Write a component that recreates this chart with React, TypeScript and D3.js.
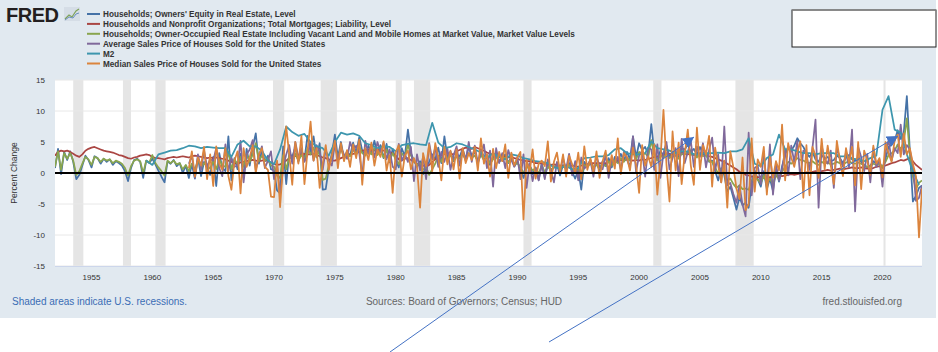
import React, { useEffect, useRef } from 'react';
import * as d3 from 'd3';

// quarterly percent change, 1952 Q1 .. 2023 Q2
const ownersEquity = [
  0.8, 3.9, -0.2, 3.4, 2.1, 3.5, 1.8, -1.0, -0.3, 1.2, 2.8, 2.1, 0.9, 2.7, 2.4, 1.5,
  2.3, 1.8, 2.2, 1.3, 1.9, 1.6, 1.2, 0.3, -1.3, 0.8, 2.1, 2.3, 1.8, -0.8, 2.0, 1.6,
  2.3, 1.4, 0.4, -0.6, -1.5, 1.9, 1.5, 2.1, 1.1, 1.6, 0.0, 1.2, -0.8, 1.4, -0.9, 2.5,
  -0.5, 1.8, 0.9, -0.3, 2.6, -2.1, 3.2, 0.8, 0.3, 5.9, -1.2, 2.4, 0.6, 3.1, -0.8, 3.9,
  1.2, 4.2, 6.4, 1.5, 3.6, 1.9, 2.8, 0.6, 0.4, -2.8, -3.3, 4.3, -1.8, 3.2, 2.6, 4.1,
  1.8, 3.7, 2.2, 6.0, 3.4, 5.9, 2.5, 4.8, -2.7, -2.6, 0.8, 3.1, 6.2, 2.5, 5.0, 2.4,
  3.5, 2.8, 4.9, 3.2, 5.8, 3.6, 2.9, 4.4, 3.3, 5.2, 3.0, 4.5, 2.4, 4.7, 1.7, 3.9,
  2.1, 0.9, 4.0, 2.7, 7.0, 3.2, 2.0, 1.0, 1.9, -0.2, 0.9, 1.8, 3.0, 2.2, 4.1, 1.6,
  5.9, 2.4, 3.5, 1.9, 3.1, 2.6, 3.9, 2.2, 4.2, 2.8, 3.4, 1.7, 3.6, 2.1, 2.9, 1.3,
  2.5, 3.1, 1.8, 2.4, 3.0, 1.6, 2.7, 1.1, 1.8, 0.6, -0.8, 0.9, 1.4, -0.2, 0.8, -1.1,
  1.6, -0.7, 1.2, 0.3, 0.9, 1.4, -0.4, 1.3, 0.7, 1.6, 0.2, -0.9, 0.5, -2.7, 1.8, 1.2,
  2.1, 0.8, 1.6, 0.4, 1.9, 1.1, 2.4, 0.9, 2.6, 1.8, 3.1, 2.0, 3.4, 2.2, 5.9, 2.5,
  4.8, 3.7, 4.2, 3.0, 7.9, 3.2, 2.1, 3.6, 2.8, 4.4, 2.6, 3.1, 3.3, 2.5, 4.0, 3.8,
  4.6, 3.4, 3.9, 2.9, 4.2, 3.1, 3.5, 1.8, 2.0, 0.3, -1.2, 0.8, -0.4, -3.0, -2.2, -4.0,
  -5.9, -3.9, -5.2, -4.8, -5.6, -1.8, 0.4, -1.0, -2.2, 0.3, -2.6, -0.9, -2.9, 0.8, -1.4, 1.1,
  2.9, 4.3, 3.6, 4.4, 5.6, 4.8, 4.2, 3.2, 2.6, 3.4, 2.2, 1.8, 2.9, 2.3, 2.6, 1.9,
  2.1, 2.8, 2.4, 1.6, 2.5, 2.9, 2.2, 2.0, 2.4, 1.8, 1.3, 0.9, 1.2, 1.9, 1.5, 1.7,
  0.8, 2.3, 4.2, 4.6, 5.2, 6.9, 5.5, 6.5, 12.4, 3.6, -4.6, -3.7, -2.4, -2.0,
];

const mortgages = [
  2.8, 3.4, 3.6, 3.5, 3.6, 3.4, 3.1, 2.8, 2.6, 3.0, 3.6, 3.9, 4.1, 4.2, 4.0, 3.8,
  3.6, 3.5, 3.4, 3.3, 3.1, 2.9, 2.8, 2.6, 2.4, 2.3, 2.5, 2.6, 2.8, 2.9, 3.0, 2.9,
  2.6, 2.4, 2.4, 2.3, 2.2, 2.4, 2.5, 2.6, 2.5, 2.6, 2.7, 2.6, 2.5, 2.7, 2.8, 2.7,
  2.6, 2.5, 2.4, 2.5, 2.4, 2.5, 2.4, 2.3, 2.2, 2.0, 1.8, 1.6, 1.5, 1.7, 1.8, 1.9,
  2.0, 2.1, 2.0, 1.9, 2.0, 2.1, 1.9, 1.7, 1.5, 1.3, 1.4, 1.6, 2.0, 2.4, 2.6, 2.7,
  2.8, 3.0, 3.1, 3.0, 3.0, 3.1, 2.9, 2.7, 2.5, 2.4, 2.2, 2.0, 2.0, 2.2, 2.4, 2.6,
  2.7, 2.9, 3.1, 3.2, 3.4, 3.6, 3.7, 3.8, 3.7, 3.6, 3.7, 3.8, 3.6, 3.5, 3.4, 3.1,
  2.8, 2.2, 2.0, 2.3, 2.4, 2.1, 1.8, 1.5, 1.3, 1.2, 1.0, 1.3, 1.8, 2.2, 2.6, 2.9,
  3.0, 3.2, 3.1, 3.0, 3.5, 3.7, 3.9, 4.1, 4.0, 3.9, 4.2, 4.0, 3.8, 3.6, 3.3, 3.1,
  2.9, 3.0, 2.8, 2.7, 2.6, 2.5, 2.6, 2.4, 2.3, 2.1, 2.0, 1.9, 1.9, 1.8, 1.6, 1.6,
  1.5, 1.6, 1.4, 1.3, 1.4, 1.3, 1.2, 1.1, 1.2, 1.3, 1.2, 1.1, 1.0, 1.2, 1.3, 1.4,
  1.5, 1.6, 1.5, 1.6, 1.5, 1.6, 1.7, 1.8, 1.9, 2.0, 2.1, 2.0, 2.2, 2.1, 2.0, 2.1,
  2.0, 2.2, 2.1, 2.3, 2.4, 2.6, 2.7, 2.8, 2.9, 3.0, 3.1, 2.9, 3.2, 3.0, 3.3, 3.1,
  3.0, 3.2, 2.9, 3.0, 2.9, 3.1, 2.8, 2.7, 2.6, 2.4, 2.2, 2.0, 1.8, 1.5, 1.2, 0.9,
  0.6, 0.2, 0.0, -0.3, -0.4, -0.6, -0.5, -0.7, -0.6, -0.8, -0.6, -0.7, -0.5, -0.6, -0.4, -0.5,
  -0.4, -0.3, -0.2, -0.3, -0.2, -0.1, 0.0, 0.1, 0.1, 0.2, 0.3, 0.2, 0.3, 0.4, 0.5, 0.4,
  0.5, 0.6, 0.7, 0.6, 0.7, 0.8, 0.9, 0.8, 0.8, 0.9, 0.8, 0.7, 0.7, 0.8, 1.0, 1.1,
  1.0, 1.2, 1.4, 1.6, 1.7, 1.9, 2.1, 2.0, 2.2, 2.4, 1.9, 1.3, 0.9, 0.5,
];

const ownerOccupied = [
  1.0, 3.5, 0.5, 3.2, 2.3, 3.2, 2.0, -0.3, 0.3, 1.5, 2.6, 2.2, 1.3, 2.6, 2.4, 1.8,
  2.3, 2.0, 2.2, 1.6, 2.0, 1.8, 1.5, 0.8, -0.4, 1.1, 2.0, 2.2, 1.9, 0.0, 2.0, 1.7,
  2.9, 1.6, 0.9, 0.3, -0.4, 2.0, 1.6, 2.0, 1.4, 1.6, 0.6, 1.3, 0.3, 1.5, 0.5, 2.1,
  0.8, 1.6, 1.2, 0.7, 2.0, 0.6, 2.2, 1.2, 1.0, 3.5, 0.6, 2.2, 1.4, 2.6, 1.0, 3.0,
  1.8, 3.0, 4.8, 1.9, 2.8, 2.0, 2.4, 1.2, 1.0, -0.4, -0.8, 2.9, 0.6, 2.6, 2.3, 3.1,
  2.0, 2.9, 2.2, 4.0, 3.0, 4.1, 2.6, 3.7, -1.1, -0.9, 1.2, 2.6, 4.4, 2.5, 3.9, 2.5,
  3.0, 2.7, 3.8, 2.9, 4.3, 3.2, 2.8, 3.6, 3.0, 4.0, 2.9, 3.7, 2.5, 3.8, 2.0, 3.2,
  2.2, 1.4, 3.2, 2.5, 4.6, 2.8, 2.0, 1.3, 1.6, 0.5, 0.9, -0.3, 0.6, 1.5, 2.8, 1.8,
  3.6, 2.2, 2.9, 2.0, 2.6, 2.3, 3.1, 2.1, 3.2, 2.5, 2.8, 1.9, 2.9, 2.1, 2.5, 1.6,
  2.2, 2.6, 1.9, 2.1, 2.5, 1.7, 2.3, 1.4, 1.6, 0.9, 0.1, 0.8, 1.1, 0.4, 0.8, -0.1,
  1.2, 0.2, 1.0, 0.6, 0.9, 1.2, 0.4, 1.1, 0.8, 1.3, 0.6, 0.2, 0.6, -0.6, 1.3, 1.0,
  1.5, 0.9, 1.3, 0.8, 1.5, 1.1, 1.9, 1.2, 2.0, 1.6, 2.4, 1.8, 2.5, 2.0, 4.2, 2.2,
  3.4, 2.9, 3.2, 2.6, 5.3, 2.8, 2.0, 2.9, 2.4, 3.2, 2.4, 2.7, 2.8, 2.3, 3.1, 3.0,
  3.4, 2.9, 3.1, 2.5, 3.2, 2.7, 2.9, 1.9, 1.8, 0.9, -0.1, 0.7, 0.1, -1.2, -0.9, -1.8,
  -2.4, -2.0, -2.6, -2.5, -2.7, -1.3, -0.6, -1.1, -1.6, -0.4, -1.7, -0.9, -1.8, -0.2, -1.0, 0.2,
  1.0, 1.8, 1.5, 1.9, 2.4, 2.1, 2.0, 1.7, 1.6, 1.9, 1.5, 1.3, 1.8, 1.5, 1.7, 1.4,
  1.5, 1.8, 1.6, 1.3, 1.7, 1.9, 1.6, 1.5, 1.7, 1.5, 1.2, 1.0, 1.1, 1.5, 1.3, 1.4,
  1.0, 1.8, 2.9, 3.2, 3.6, 4.6, 3.8, 5.0, 8.8, 3.0, -0.6, -2.6, -1.6, -1.2,
];

// quarterly percent change, 1963 Q1 .. 2023 Q2
const averagePrice = [
  1.5, 2.8, -0.8, 3.0, 0.5, 3.6, 1.0, 2.2, 2.0, 4.0, 0.8, -0.5, 4.6, 0.3, 2.5, 1.0,
  1.2, 5.2, -1.5, 3.0, 3.8, 5.3, 0.5, 2.6, 4.3, 0.8, 2.0, 3.5, -1.0, 1.5, -3.5, 0.8,
  3.0, 4.5, 1.5, 5.0, 2.5, 4.0, 1.8, 3.0, 5.0, 2.0, 4.5, 3.5, 0.5, 3.8, 2.0, 1.2,
  4.8, 2.2, 4.1, 3.0, 2.3, 5.0, 3.6, 4.4, 3.2, -0.5, 5.2, 3.1, 4.6, 2.5, 5.0, 3.4,
  4.9, 2.2, 3.8, 1.0, 0.6, 4.7, 2.0, 3.1, 1.8, 4.2, -1.3, 3.0, 0.4, 2.6, -1.0, 4.8,
  2.2, 4.1, 1.0, 3.4, 1.8, 3.9, 0.5, 2.8, 4.3, 1.2, 3.5, 2.0, 5.0, 1.8, 4.4, 1.5,
  3.2, 4.6, 0.8, 3.6, -2.2, 4.0, 1.6, 3.2, 0.8, 3.7, 2.1, 1.0, 2.6, -1.0, 3.0, -2.4,
  1.6, -1.3, 0.9, -1.2, 1.4, -1.0, 2.2, 0.4, -1.5, 1.8, 0.2, 2.4, 0.6, 3.1, -0.4, 1.9,
  -1.2, 2.5, 0.7, 1.2, 2.0, -0.6, 2.8, 1.0, 0.6, 3.0, -0.8, 2.2, 1.4, 2.6, 0.5, 3.4,
  2.2, 0.9, 5.9, 0.2, 2.8, 3.6, -0.6, 4.1, 3.8, 0.5, 4.6, -0.8, 3.2, 5.0, 0.6, 2.4,
  4.0, -0.5, 5.5, 1.6, 3.4, 5.2, 1.0, 4.3, 2.6, 4.8, 0.9, 3.7, 5.7, 0.4, 3.0, -1.5,
  7.5, -2.0, -1.6, -3.4, -4.8, -2.0, -5.1, -7.0, 6.5, -3.6, 0.8, 1.2, -1.8, 3.2, -2.3, 4.6,
  -3.5, 1.4, -1.2, 0.6, 3.8, -0.4, 4.4, 1.8, 5.2, -1.0, 3.6, 2.9, 0.5, 4.1, 8.6, -5.6,
  4.4, 2.2, 1.5, 3.6, -2.4, 4.0, 2.5, 1.0, 3.3, 0.9, 7.0, -6.2, 4.2, 2.6, 0.3, 3.1,
  -1.5, 4.0, 1.0, 2.2, -2.2, 3.4, 5.3, 2.0, 4.0, 3.2, 7.8, 3.0, 4.5, 3.8, 1.2, -4.5,
  -4.0, -2.0,
];

const medianPrice = [
  0.8, 3.5, -0.6, 2.5, 1.2, 4.2, -1.0, 3.0, -2.1, 4.3, 1.5, 0.5, 4.0, -0.5, -2.7, 2.0,
  3.5, -3.3, 4.0, 1.0, 2.5, 4.5, 0.0, 3.0, 4.0, 1.0, 0.5, -3.8, -3.9, 2.0, -5.5, 1.5,
  7.5, 3.0, -1.9, 5.0, 1.5, 6.0, -1.8, 3.5, 8.3, 2.0, 4.0, -2.4, 1.5, 4.5, 0.5, 2.8,
  5.2, 0.8, 4.8, 1.9, 3.7, 1.0, 4.6, 2.4, 5.4, -1.9, 4.0, 2.1, 4.9, 1.2, 3.8, 2.6,
  5.1, 0.4, 2.9, -3.2, 3.3, 4.5, -0.6, 2.8, 3.6, 0.6, 2.4, 1.0, -5.6, 3.2, 1.1, 4.6,
  0.3, 4.8, 2.5, -1.2, 4.2, 1.4, 3.6, 0.6, 3.8, -0.9, 4.0, 1.6, 3.2, 2.1, 4.2, 0.4,
  5.6, 1.5, 3.1, -0.6, 3.9, 0.8, 3.4, 1.9, 4.6, -0.8, 3.3, 1.2, 2.5, 3.4, -7.5, 2.1,
  0.2, 3.8, -0.9, 1.5, 2.0, 1.1, 5.1, -1.4, 1.8, 3.3, 0.2, 3.0, -0.6, 2.8, 1.4, 0.0,
  3.3, -1.0, 4.3, 0.5, 2.4, 0.1, 3.5, -0.8, 1.9, 3.6, 0.2, 2.9, 0.7, 5.6, -0.2, 3.2,
  2.6, 0.4, 4.1, 1.3, -3.2, 4.5, 1.2, 2.7, 1.0, 4.6, -3.5, 2.0, 10.2, 1.4, -4.6, 6.7,
  0.4, 4.9, -1.8, 3.0, 7.0, 1.2, -1.9, 7.3, 0.5, 4.5, 3.0, 6.0, -2.2, 4.1, 1.2, -1.5,
  2.0, -5.6, 3.5, 0.9, -2.5, -4.2, 2.5, -6.0, -5.0, 5.6, -3.0, 2.2, 1.0, 4.2, -3.5, 2.6,
  -0.8, 1.9, 0.4, 7.8, -1.2, 4.8, 2.5, 1.0, 3.4, 5.1, -4.0, 4.5, -3.6, 4.2, 2.8, -0.8,
  5.5, 0.6, 4.4, 1.2, -1.8, 5.2, 2.0, -0.5, 4.0, 1.6, 4.2, -2.0, 5.0, -2.6, 3.6, 2.0,
  -0.3, 4.4, 1.5, 2.4, -0.7, 5.0, 3.2, 1.8, 5.3, 6.2, 2.6, 6.4, 3.0, 4.0, 1.5, -0.5,
  -10.4, -2.5,
];

// semiannual percent change, 1959 H2 .. 2023 H1
const m2 = [
  2.0, 1.3, 3.0, 3.3, 3.6, 3.7, 4.0, 4.4, 4.3, 4.0, 4.2, 4.1, 4.0, 4.0, 2.6, 4.6,
  5.2, 4.3, 4.3, 3.6, 2.0, 1.4, 3.8, 7.5, 6.6, 6.0, 6.3, 5.0, 4.3, 4.0, 2.8, 5.0,
  6.5, 6.2, 6.4, 6.0, 4.8, 4.5, 4.0, 4.3, 4.2, 3.5, 4.5, 4.7, 4.8, 4.6, 4.5, 8.1,
  4.9, 4.0, 4.2, 4.8, 4.6, 4.2, 3.8, 3.3, 2.4, 3.2, 2.6, 2.2, 3.0, 2.8, 2.4, 2.2,
  1.9, 1.8, 1.6, 0.9, 0.8, 1.1, 0.6, 0.8, 2.4, 2.5, 2.7, 2.7, 2.9, 3.8, 4.0, 3.2,
  3.0, 3.0, 3.2, 5.1, 4.0, 3.8, 3.6, 3.2, 3.5, 3.5, 3.0, 3.0, 3.2, 3.2, 3.3, 3.2,
  3.5, 3.5, 3.8, 5.6, 1.5, 1.1, 2.4, 3.0, 6.2, 3.8, 3.8, 3.5, 3.2, 3.2, 3.0, 3.2,
  3.2, 3.2, 2.7, 2.7, 2.3, 2.2, 1.9, 2.4, 2.8, 10.2, 12.4, 7.0, 6.5, 3.0, 0.3, -1.9,
];

const seriesNames = [
  "Households; Owners' Equity in Real Estate, Level",
  'Households and Nonprofit Organizations; Total Mortgages; Liability, Level',
  'Households; Owner-Occupied Real Estate Including Vacant Land and Mobile Homes at Market Value, Market Value Levels',
  'Average Sales Price of Houses Sold for the United States',
  'M2',
  'Median Sales Price of Houses Sold for the United States',
];
const seriesColors = ['#4572a7', '#aa4643', '#89a54e', '#80699b', '#3d96ae', '#db843d'];

const yTicks = [-15, -10, -5, 0, 5, 10, 15];

const recessions = [
  ['1953-07-01', '1954-05-01'], ['1957-08-01', '1958-04-01'], ['1960-04-01', '1961-02-01'],
  ['1969-12-01', '1970-11-01'], ['1973-11-01', '1975-03-01'], ['1980-01-01', '1980-07-01'],
  ['1981-07-01', '1982-11-01'], ['1990-07-01', '1991-03-01'], ['2001-03-01', '2001-11-01'],
  ['2007-12-01', '2009-06-01'], ['2020-02-01', '2020-04-01'],
];

const FONT = '"Liberation Sans", Arial, Helvetica, sans-serif';

const toSeries = (values, startYear, startMonth, stepMonths) =>
  values.map((v, i) => ({ date: new Date(Date.UTC(startYear, startMonth + i * stepMonths, 1)), value: v }));

const FredChart = () => {
  const ref = useRef(null);

  useEffect(() => {
    const svg = d3.select(ref.current);
    svg.selectAll('*').remove();

    const width = 938;
    const height = 352;
    const margin = { left: 55, right: 16, top: 80, bottom: 86 };

    const series = [
      toSeries(ownersEquity, 1952, 0, 3),
      toSeries(mortgages, 1952, 0, 3),
      toSeries(ownerOccupied, 1952, 0, 3),
      toSeries(averagePrice, 1963, 0, 3),
      toSeries(m2, 1959, 6, 6),
      toSeries(medianPrice, 1963, 0, 3),
    ];

    const x = d3.scaleUtc()
      .domain([new Date(Date.UTC(1952, 0, 1)), new Date(Date.UTC(2023, 3, 1))])
      .range([margin.left, width - margin.right]);
    const y = d3.scaleLinear()
      .domain([-15, 15])
      .range([height - margin.bottom, margin.top]);

    // page background
    svg.append('rect').attr('x', 0).attr('y', 0).attr('width', width).attr('height', height).attr('fill', '#ffffff');
    svg.append('rect').attr('x', 0).attr('y', 0).attr('width', 936).attr('height', 318).attr('fill', '#e1e9f0');

    // FRED logo
    svg.append('text')
      .attr('x', 6).attr('y', 22)
      .style('font', `900 20px ${FONT}`)
      .attr('fill', '#231f20')
      .attr('letter-spacing', '-0.5')
      .text('FRED');
    const icon = svg.append('g').attr('transform', 'translate(64,7)');
    icon.append('rect').attr('width', 16).attr('height', 14).attr('fill', '#d5dde6');
    icon.append('path').attr('d', 'M1,12 L5,8 L8,10 L12,4 L15,2').attr('fill', 'none').attr('stroke', '#7fa35a').attr('stroke-width', 1.2);
    icon.append('path').attr('d', 'M1,13 L5,10 L9,11 L12,7 L15,6').attr('fill', 'none').attr('stroke', '#6b8fc0').attr('stroke-width', 1);

    // legend
    const legend = svg.append('g');
    seriesNames.forEach((name, i) => {
      const ly = 14 + i * 9.9;
      legend.append('line')
        .attr('x1', 87).attr('x2', 100).attr('y1', ly).attr('y2', ly)
        .attr('stroke', seriesColors[i]).attr('stroke-width', 2);
      legend.append('text')
        .attr('x', 103).attr('y', ly + 3)
        .style('font', `bold 8.2px ${FONT}`)
        .attr('fill', '#333333')
        .text(name);
    });

    // empty white box at the right
    svg.append('rect')
      .attr('x', 792).attr('y', 10).attr('width', 144).attr('height', 37)
      .attr('fill', '#ffffff').attr('stroke', '#222222').attr('stroke-width', 1);
    svg.append('line').attr('x1', 792).attr('x2', 936).attr('y1', 10).attr('y2', 10)
      .attr('stroke', '#888888').attr('stroke-width', 1.5);

    // plot area
    svg.append('rect')
      .attr('x', margin.left).attr('y', margin.top)
      .attr('width', width - margin.right - margin.left)
      .attr('height', height - margin.bottom - margin.top)
      .attr('fill', '#ffffff');

    svg.append('g').selectAll('rect')
      .data(recessions)
      .join('rect')
        .attr('x', d => x(new Date(d[0])))
        .attr('width', d => x(new Date(d[1])) - x(new Date(d[0])))
        .attr('y', margin.top)
        .attr('height', height - margin.bottom - margin.top)
        .attr('fill', '#e5e5e5');

    svg.append('g').selectAll('line')
      .data(yTicks.filter(t => t !== 0))
      .join('line')
        .attr('x1', margin.left).attr('x2', width - margin.right)
        .attr('y1', d => y(d)).attr('y2', d => y(d))
        .attr('stroke', '#e8e8e8').attr('stroke-width', 1);

    // x axis line
    svg.append('line')
      .attr('x1', margin.left).attr('x2', width - margin.right)
      .attr('y1', y(-15) + 0.5).attr('y2', y(-15) + 0.5)
      .attr('stroke', '#ccd6eb');

    // y tick labels
    svg.append('g').selectAll('text')
      .data(yTicks)
      .join('text')
        .attr('x', 45).attr('y', d => y(d) + 3)
        .attr('text-anchor', 'end')
        .style('font', `8px ${FONT}`)
        .attr('fill', '#333333')
        .text(d => d);

    // x tick labels
    const xTicks = d3.range(1955, 2021, 5).map(yr => new Date(Date.UTC(yr, 0, 1)));
    svg.append('g').selectAll('text')
      .data(xTicks)
      .join('text')
        .attr('x', d => x(d)).attr('y', 280)
        .attr('text-anchor', 'middle')
        .style('font', `8px ${FONT}`)
        .attr('fill', '#333333')
        .text(d => d.getUTCFullYear());

    svg.append('text')
      .attr('transform', `translate(17,${y(0)}) rotate(-90)`)
      .attr('text-anchor', 'middle')
      .style('font', `8.5px ${FONT}`)
      .attr('fill', '#333333')
      .text('Percent Change');

    // series
    const line = d3.line()
      .x(d => x(d.date))
      .y(d => y(d.value));

    const clip = svg.append('defs').append('clipPath').attr('id', 'plot-clip');
    clip.append('rect')
      .attr('x', margin.left).attr('y', margin.top - 2)
      .attr('width', width - margin.right - margin.left)
      .attr('height', height - margin.bottom - margin.top + 4);

    svg.append('g')
      .attr('clip-path', 'url(#plot-clip)')
      .selectAll('path')
      .data(series)
      .join('path')
        .attr('d', line)
        .attr('fill', 'none')
        .attr('stroke', (d, i) => seriesColors[i])
        .attr('stroke-width', 1.75)
        .attr('stroke-linejoin', 'round');

    // zero line
    svg.append('line')
      .attr('x1', margin.left).attr('x2', width - margin.right)
      .attr('y1', y(0)).attr('y2', y(0))
      .attr('stroke', '#000000').attr('stroke-width', 1.8);

    // footer
    svg.append('text')
      .attr('x', 12).attr('y', 305)
      .style('font', `10px ${FONT}`)
      .attr('fill', '#3b6db5')
      .text('Shaded areas indicate U.S. recessions.');
    svg.append('text')
      .attr('x', 464).attr('y', 305)
      .attr('text-anchor', 'middle')
      .style('font', `10px ${FONT}`)
      .attr('fill', '#666666')
      .text('Sources: Board of Governors; Census; HUD');
    svg.append('text')
      .attr('x', 902).attr('y', 305)
      .attr('text-anchor', 'end')
      .style('font', `10px ${FONT}`)
      .attr('fill', '#666666')
      .text('fred.stlouisfed.org');

    // annotation arrows
    const defs = svg.append('defs');
    defs.append('marker')
      .attr('id', 'arrow-head')
      .attr('markerUnits', 'userSpaceOnUse')
      .attr('markerWidth', 12).attr('markerHeight', 12)
      .attr('refX', 11).attr('refY', 6)
      .attr('orient', 'auto')
      .append('path')
        .attr('d', 'M0,0 L11,6 L0,12 Z')
        .attr('fill', '#4472c4');

    const arrows = [
      [390, 352, 694, 137],
      [549, 342, 898, 136],
    ];
    svg.append('g').selectAll('line')
      .data(arrows)
      .join('line')
        .attr('x1', d => d[0]).attr('y1', d => d[1])
        .attr('x2', d => d[2]).attr('y2', d => d[3])
        .attr('stroke', '#4472c4').attr('stroke-width', 1)
        .attr('marker-end', 'url(#arrow-head)');
  }, []);

  return (
    <svg ref={ref} width="938" height="352" style={{ position: 'absolute', left: 0, top: 0, display: 'block' }}></svg>
  );
};

export default function App() {
  return <FredChart />;
}
